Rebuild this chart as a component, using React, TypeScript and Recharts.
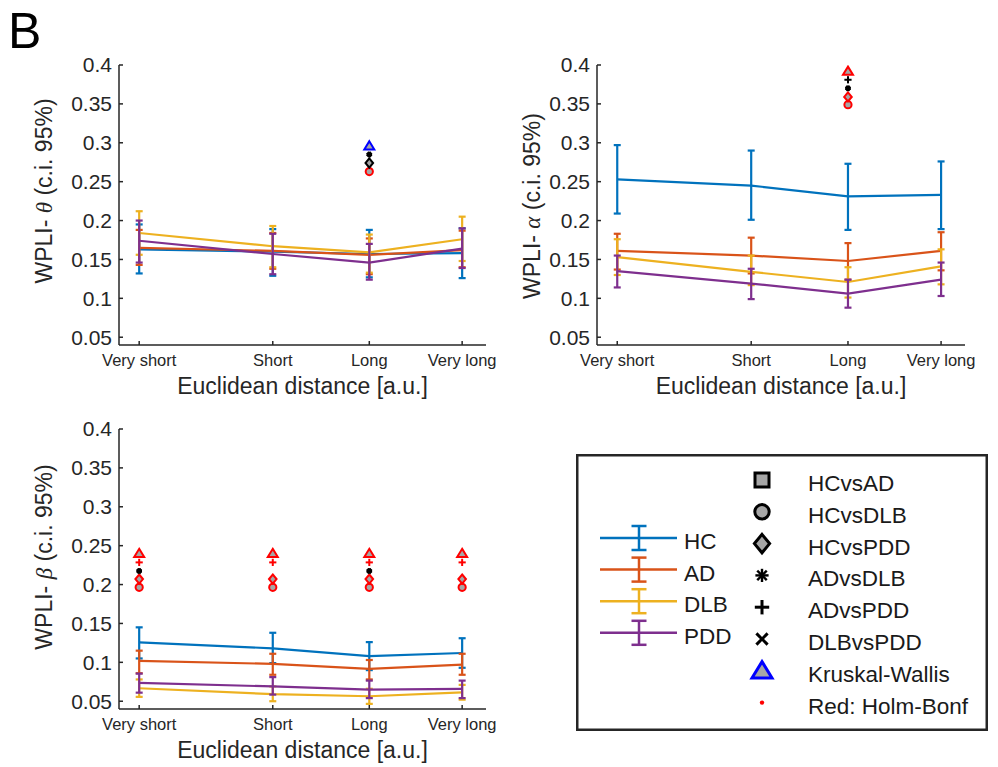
import React from 'react';
import { ComposedChart, Line, Scatter, XAxis, YAxis, ErrorBar, Label } from 'recharts';

const FONT = '"Liberation Sans", Arial, Helvetica, sans-serif';
const GREEK_FONT = '"Liberation Serif", "DejaVu Serif", serif';
const INK = '#262626';
const GRAY_FILL = '#a6a6a6';

// ---------- data ----------
const categories = ['Very short', 'Short', 'Long', 'Very long'];
const distances = [5.5, 41.9, 68.2, 93.5];
const yTicks = [0.05, 0.1, 0.15, 0.2, 0.25, 0.3, 0.35, 0.4];
const groups = ['HC', 'AD', 'DLB', 'PDD'];
const groupColors = ['#0072BD', '#D95319', '#EDB120', '#7E2F8E'];
const tests = ['HCvsAD', 'HCvsDLB', 'HCvsPDD', 'ADvsDLB', 'ADvsPDD', 'DLBvsPDD', 'Kruskal-Wallis'];

// theta band
const thetaHC = [0.163, 0.16, 0.157, 0.158];
const thetaHCLow = [0.132, 0.129, 0.127, 0.126];
const thetaHCHigh = [0.195, 0.189, 0.188, 0.19];
const thetaAD = [0.165, 0.161, 0.156, 0.162];
const thetaADLow = [0.143, 0.138, 0.131, 0.14];
const thetaADHigh = [0.188, 0.184, 0.177, 0.187];
const thetaDLB = [0.184, 0.167, 0.159, 0.176];
const thetaDLBLow = [0.156, 0.14, 0.133, 0.148];
const thetaDLBHigh = [0.212, 0.193, 0.182, 0.205];
const thetaPDD = [0.174, 0.157, 0.146, 0.164];
const thetaPDDLow = [0.146, 0.131, 0.124, 0.139];
const thetaPDDHigh = [0.2, 0.183, 0.17, 0.19];

// alpha band
const alphaHC = [0.253, 0.245, 0.231, 0.233];
const alphaHCLow = [0.209, 0.201, 0.188, 0.189];
const alphaHCHigh = [0.297, 0.29, 0.273, 0.276];
const alphaAD = [0.161, 0.155, 0.148, 0.161];
const alphaADLow = [0.137, 0.132, 0.124, 0.136];
const alphaADHigh = [0.183, 0.178, 0.171, 0.185];
const alphaDLB = [0.153, 0.134, 0.121, 0.141];
const alphaDLBLow = [0.13, 0.117, 0.101, 0.118];
const alphaDLBHigh = [0.176, 0.155, 0.14, 0.163];
const alphaPDD = [0.135, 0.119, 0.106, 0.124];
const alphaPDDLow = [0.114, 0.099, 0.088, 0.103];
const alphaPDDHigh = [0.155, 0.138, 0.124, 0.146];

// beta band
const betaHC = [0.1256, 0.118, 0.108, 0.112];
const betaHCLow = [0.105, 0.099, 0.09, 0.093];
const betaHCHigh = [0.145, 0.138, 0.126, 0.131];
const betaAD = [0.102, 0.098, 0.0915, 0.097];
const betaADLow = [0.086, 0.084, 0.078, 0.084];
const betaADHigh = [0.115, 0.111, 0.103, 0.111];
const betaDLB = [0.0667, 0.059, 0.0564, 0.0615];
const betaDLBLow = [0.0556, 0.05, 0.0466, 0.052];
const betaDLBHigh = [0.078, 0.069, 0.066, 0.071];
const betaPDD = [0.0735, 0.069, 0.065, 0.066];
const betaPDDLow = [0.061, 0.0585, 0.054, 0.054];
const betaPDDHigh = [0.0855, 0.081, 0.0765, 0.0765];

// significance markers: [category, test, y position, Holm-Bonferroni significant]
const thetaMarks: [string, string, number, boolean][] = [
  ['Long', 'Kruskal-Wallis', 0.296, false],
  ['Long', 'ADvsDLB', 0.285, false],
  ['Long', 'HCvsPDD', 0.274, false],
  ['Long', 'HCvsDLB', 0.263, true],
];
const alphaMarks: [string, string, number, boolean][] = [
  ['Long', 'Kruskal-Wallis', 0.392, true],
  ['Long', 'ADvsPDD', 0.381, false],
  ['Long', 'ADvsDLB', 0.37, false],
  ['Long', 'HCvsPDD', 0.359, true],
  ['Long', 'HCvsDLB', 0.349, true],
];
const betaMarks: [string, string, number, boolean][] = [
  ['Very short', 'Kruskal-Wallis', 0.24, true],
  ['Very short', 'ADvsPDD', 0.2285, true],
  ['Very short', 'ADvsDLB', 0.2175, false],
  ['Very short', 'HCvsPDD', 0.207, true],
  ['Very short', 'HCvsDLB', 0.1965, true],
  ['Short', 'Kruskal-Wallis', 0.24, true],
  ['Short', 'ADvsPDD', 0.2285, true],
  ['Short', 'HCvsPDD', 0.207, true],
  ['Short', 'HCvsDLB', 0.1965, true],
  ['Long', 'Kruskal-Wallis', 0.24, true],
  ['Long', 'ADvsPDD', 0.2285, true],
  ['Long', 'ADvsDLB', 0.2175, false],
  ['Long', 'HCvsPDD', 0.207, true],
  ['Long', 'HCvsDLB', 0.1965, true],
  ['Very long', 'Kruskal-Wallis', 0.24, true],
  ['Very long', 'ADvsPDD', 0.2285, true],
  ['Very long', 'HCvsPDD', 0.207, true],
  ['Very long', 'HCvsDLB', 0.1965, true],
];

// ---------- helpers ----------
function buildRows(mean: number[][], low: number[][], high: number[][]) {
  return categories.map((c, i) => {
    const row: any = { x: distances[i], cat: c };
    groups.forEach((g, k) => {
      row[g] = mean[k][i];
      row[g + 'Err'] = [mean[k][i] - low[k][i], high[k][i] - mean[k][i]];
    });
    return row;
  });
}

function markPoints(marks: [string, string, number, boolean][], test: string) {
  return marks
    .filter((m) => m[1] === test)
    .map((m) => ({ x: distances[categories.indexOf(m[0])], y: m[2], red: m[3] }));
}

function markColor(test: string, red: boolean) {
  if (red) return '#FF0000';
  return test === 'Kruskal-Wallis' ? '#0000FF' : '#000000';
}

function drawMarker(test: string, cx: number, cy: number, color: string, s: number, sw: number) {
  switch (test) {
    case 'HCvsAD':
      return <rect x={cx - 3.5 * s} y={cy - 3.5 * s} width={7 * s} height={7 * s} fill={GRAY_FILL} stroke={color} strokeWidth={sw} />;
    case 'HCvsDLB':
      return <circle cx={cx} cy={cy} r={3.6 * s} fill={GRAY_FILL} stroke={color} strokeWidth={sw} />;
    case 'HCvsPDD':
      return (
        <path d={`M${cx},${cy - 4.6 * s}L${cx + 3.8 * s},${cy}L${cx},${cy + 4.6 * s}L${cx - 3.8 * s},${cy}Z`} fill={GRAY_FILL} stroke={color} strokeWidth={sw} strokeLinejoin="miter" />
      );
    case 'ADvsDLB': {
      const r = 3.3 * s;
      const d = r * 0.72;
      return (
        <g stroke={color} strokeWidth={sw}>
          <line x1={cx - r} y1={cy} x2={cx + r} y2={cy} />
          <line x1={cx} y1={cy - r} x2={cx} y2={cy + r} />
          <line x1={cx - d} y1={cy - d} x2={cx + d} y2={cy + d} />
          <line x1={cx - d} y1={cy + d} x2={cx + d} y2={cy - d} />
        </g>
      );
    }
    case 'ADvsPDD': {
      const r = 3.6 * s;
      return (
        <g stroke={color} strokeWidth={sw}>
          <line x1={cx - r} y1={cy} x2={cx + r} y2={cy} />
          <line x1={cx} y1={cy - r} x2={cx} y2={cy + r} />
        </g>
      );
    }
    case 'DLBvsPDD': {
      const r = 2.8 * s;
      return (
        <g stroke={color} strokeWidth={sw}>
          <line x1={cx - r} y1={cy - r} x2={cx + r} y2={cy + r} />
          <line x1={cx - r} y1={cy + r} x2={cx + r} y2={cy - r} />
        </g>
      );
    }
    default:
      return (
        <path d={`M${cx},${cy - 4.6 * s}L${cx + 5 * s},${cy + 3.6 * s}L${cx - 5 * s},${cy + 3.6 * s}Z`} fill={GRAY_FILL} stroke={color} strokeWidth={sw} strokeLinejoin="miter" />
      );
  }
}

function markerShape(test: string) {
  return (props: any) => {
    const { cx, cy, payload } = props;
    if (cx == null || cy == null) return <g />;
    const color = markColor(test, !!(payload && payload.red));
    if (test === 'ADvsDLB') {
      // small asterisk renders as a compact blob, as in the reference
      return drawMarker(test, cx, cy, color, 0.85, 2.8);
    }
    return drawMarker(test, cx, cy, color, 1, 2);
  };
}

// ---------- panel ----------
const CHART_W = 500;
const CHART_H = 405;
const Y_AXIS_W = 119;
const PLOT_TOP = 65;

type PanelProps = {
  left: number;
  top: number;
  plotW: number;
  rows: any[];
  marks: [string, string, number, boolean][];
  greek: string;
  labelX: number;
  labelY: number;
};

function Panel({ left, top, plotW, rows, marks, greek, labelX, labelY }: PanelProps) {
  return (
    <div style={{ position: 'absolute', left, top, width: CHART_W, height: CHART_H }}>
      <ComposedChart
        width={CHART_W}
        height={CHART_H}
        data={rows}
        margin={{ top: PLOT_TOP, right: CHART_W - Y_AXIS_W - plotW, bottom: 0, left: 0 }}
      >
        <XAxis
          dataKey="x"
          type="number"
          domain={[0, 100]}
          ticks={distances}
          interval={0}
          allowDataOverflow
          tickFormatter={(v: number) => categories[distances.indexOf(v)] ?? ''}
          height={60}
          tickSize={-4}
          tickMargin={13}
          stroke={INK}
          strokeWidth={1.5}
          tick={{ fill: INK, fontSize: 16.5, fontFamily: FONT }}
        >
          <Label
            content={() => (
              <text x={Y_AXIS_W + plotW / 2} y={394} textAnchor="middle" fill={INK} fontSize={23} fontFamily={FONT}>
                Euclidean distance [a.u.]
              </text>
            )}
          />
        </XAxis>
        <YAxis
          type="number"
          domain={[0.04, 0.4]}
          ticks={yTicks}
          interval={0}
          allowDataOverflow
          width={Y_AXIS_W}
          tickSize={-4}
          tickMargin={11}
          stroke={INK}
          strokeWidth={1.5}
          tickFormatter={(v: number) => String(v)}
          tick={{ fill: INK, fontSize: 21, fontFamily: FONT }}
        >
          <Label
            content={() => (
              <text
                transform={`translate(${labelX},${labelY}) rotate(-90)`}
                textAnchor="middle"
                dominantBaseline="central"
                fill={INK}
                fontSize={23}
                fontFamily={FONT}
              >
                {'WPLI- '}
                <tspan fontFamily={GREEK_FONT} fontStyle="italic">
                  {greek}
                </tspan>
                {' (c.i. 95%)'}
              </text>
            )}
          />
        </YAxis>
        {groups.map((g, k) => (
          <Line
            key={g}
            dataKey={g}
            stroke={groupColors[k]}
            strokeWidth={2.2}
            dot={false}
            activeDot={false}
            isAnimationActive={false}
            legendType="none"
          >
            <ErrorBar
              dataKey={g + 'Err'}
              direction="y"
              width={3.5}
              stroke={groupColors[k]}
              strokeWidth={2.2}
              isAnimationActive={false}
            />
          </Line>
        ))}
        {tests.map((t) => {
          const pts = markPoints(marks, t);
          if (!pts.length) return null;
          return (
            <Scatter
              key={t}
              data={pts}
              dataKey="y"
              shape={markerShape(t)}
              isAnimationActive={false}
              legendType="none"
            />
          );
        })}
      </ComposedChart>
    </div>
  );
}

// ---------- legend ----------
const legendTestLabels = ['HCvsAD', 'HCvsDLB', 'HCvsPDD', 'ADvsDLB', 'ADvsPDD', 'DLBvsPDD', 'Kruskal-Wallis'];

function LegendBox() {
  const W = 412;
  const H = 277;
  const rowY = (i: number) => 26 + i * 31.8;
  const grpY = (i: number) => 84 + i * 31.6;
  return (
    <svg width={W} height={H} style={{ position: 'absolute', left: 576, top: 454 }}>
      <rect x={1.25} y={1.25} width={W - 2.5} height={H - 2.5} fill="#fff" stroke={INK} strokeWidth={2.5} />
      {groups.map((g, i) => {
        const y = grpY(i);
        const c = groupColors[i];
        return (
          <g key={g}>
            <line x1={24} y1={y} x2={101} y2={y} stroke={c} strokeWidth={2.5} />
            <line x1={63} y1={y - 12} x2={63} y2={y + 12} stroke={c} strokeWidth={2.5} />
            <line x1={55.5} y1={y - 12} x2={70.5} y2={y - 12} stroke={c} strokeWidth={2.5} />
            <line x1={55.5} y1={y + 12} x2={70.5} y2={y + 12} stroke={c} strokeWidth={2.5} />
            <text x={108} y={y + 11} fill="#1a1a1a" fontSize={22.5} fontFamily={FONT}>
              {g}
            </text>
          </g>
        );
      })}
      {tests.map((t, i) => {
        const y = rowY(i);
        return (
          <g key={t}>
            {drawMarker(t, 186, y, t === 'Kruskal-Wallis' ? '#0000FF' : '#000000', 2, t === 'ADvsDLB' ? 2.4 : 3)}
            <text x={232} y={y + 11} fill="#1a1a1a" fontSize={22.5} fontFamily={FONT}>
              {legendTestLabels[i]}
            </text>
          </g>
        );
      })}
      <circle cx={186} cy={rowY(7)} r={2.2} fill="#FF0000" />
      <text x={232} y={rowY(7) + 11} fill="#1a1a1a" fontSize={22.5} fontFamily={FONT}>
        Red: Holm-Bonf
      </text>
    </svg>
  );
}

// ---------- app ----------
export default function App() {
  const thetaRows = buildRows(
    [thetaHC, thetaAD, thetaDLB, thetaPDD],
    [thetaHCLow, thetaADLow, thetaDLBLow, thetaPDDLow],
    [thetaHCHigh, thetaADHigh, thetaDLBHigh, thetaPDDHigh]
  );
  const alphaRows = buildRows(
    [alphaHC, alphaAD, alphaDLB, alphaPDD],
    [alphaHCLow, alphaADLow, alphaDLBLow, alphaPDDLow],
    [alphaHCHigh, alphaADHigh, alphaDLBHigh, alphaPDDHigh]
  );
  const betaRows = buildRows(
    [betaHC, betaAD, betaDLB, betaPDD],
    [betaHCLow, betaADLow, betaDLBLow, betaPDDLow],
    [betaHCHigh, betaADHigh, betaDLBHigh, betaPDDHigh]
  );
  return (
    <div style={{ position: 'absolute', left: 0, top: 0, width: 998, height: 767, background: '#fff', overflow: 'hidden' }}>
      <svg width={80} height={60} style={{ position: 'absolute', left: 0, top: 0 }}>
        <text x={8} y={48} fontSize={50} fontFamily={FONT} fill="#000">
          B
        </text>
      </svg>
      <Panel left={0} top={0} plotW={367} rows={thetaRows} marks={thetaMarks} greek="θ" labelX={44} labelY={191} />
      <Panel left={478} top={0} plotW={368} rows={alphaRows} marks={alphaMarks} greek="α" labelX={54} labelY={206} />
      <Panel left={0} top={364} plotW={367} rows={betaRows} marks={betaMarks} greek="β" labelX={44} labelY={193} />
      <LegendBox />
    </div>
  );
}
